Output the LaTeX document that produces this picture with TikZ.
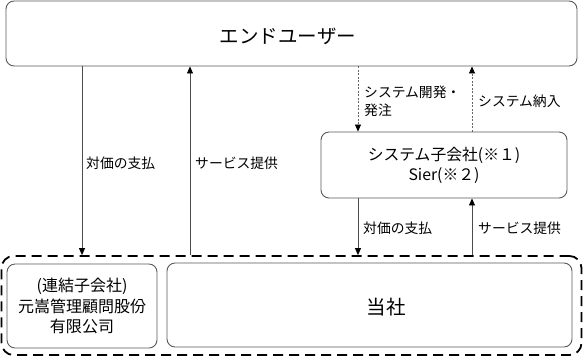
\documentclass[tikz,border=0pt]{standalone}
\usepackage{fontspec}
\setmainfont{Noto Sans CJK JP}
\usetikzlibrary{arrows.meta}
\begin{document}
\begin{tikzpicture}[x=1pt,y=-1pt,
  box/.style={draw=black!65,line width=0.9pt,rounded corners=8pt,inner sep=0pt},
  cont/.style={draw=black,line width=1.8pt,dash pattern=on 10pt off 6pt,rounded corners=12pt,inner sep=0pt},
  flow/.style={draw=black!70,line width=0.8pt,-{Triangle[length=7pt,width=6pt,fill=black,color=black]}},
  dflow/.style={draw=black!60,line width=0.8pt,dash pattern=on 2pt off 1.5pt,-{Triangle[length=7pt,width=6pt,fill=black,color=black]}},
  lbl/.style={anchor=west,font=\fontsize{13.8}{18}\selectfont,inner sep=0pt,align=left},
]
\useasboundingbox (0,0) rectangle (583,357);
\node[box,minimum width=571pt,minimum height=65pt] (top) at (291.5,33.5) {};
\node[font=\fontsize{19.5}{22}\selectfont] (topt) at (288,36) {エンドユーザー};
\node[box,minimum width=246pt,minimum height=66pt,align=center,font=\fontsize{15.8}{20}\selectfont] (sys) at (444,165) {システム子会社(※１)\\Sier(※２)};
\node[cont,minimum width=580pt,minimum height=99pt] (cont) at (291.5,305.5) {};
\node[box,minimum width=150pt,minimum height=84pt,align=center,font=\fontsize{16}{20.5}\selectfont] (sub) at (82,306) {(連結子会社)\\元嵩管理顧問股份\\有限公司};
\node[box,minimum width=405pt,minimum height=84pt] (us) at (369.5,305) {};
\node[font=\fontsize{19.5}{22}\selectfont] (ust) at (386,307) {当社};
\coordinate (xa) at (82,0);
\coordinate (xb) at (190,0);
\coordinate (xc) at (358,0);
\coordinate (xd) at (472,0);
\draw[flow] (top.south -| xa) -- (cont.north -| xa);
\draw[flow] (cont.north -| xb) -- (top.south -| xb);
\draw[dflow] (top.south -| xc) -- (sys.north -| xc);
\draw[dflow] (sys.north -| xd) -- (top.south -| xd);
\draw[flow] (sys.south -| xc) -- (cont.north -| xc);
\draw[flow] (cont.north -| xd) -- (sys.south -| xd);
\node[lbl] (l1) at (86,163) {対価の支払};
\node[lbl] (l2) at (195,163) {サービス提供};
\node[lbl] (l3) at (364,101) {システム開発・\\発注};
\node[lbl] (l4) at (478,101) {システム納入};
\node[lbl] (l5) at (363,228) {対価の支払};
\node[lbl] (l6) at (478,228) {サービス提供};
\end{tikzpicture}
\end{document}
